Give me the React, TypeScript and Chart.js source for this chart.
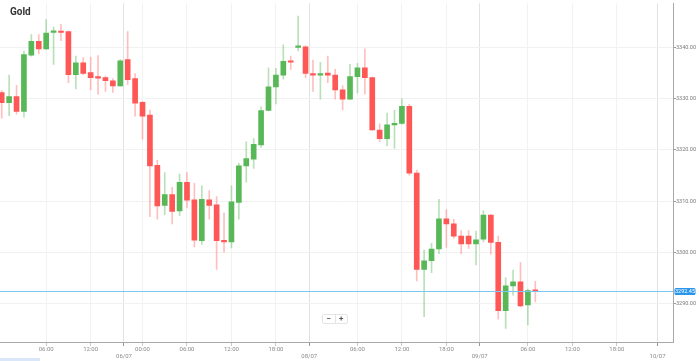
import React, { useEffect, useRef } from 'react';
import { Chart, registerables } from 'chart.js';

Chart.register(...registerables);

// Hourly candles (index = candle number on the chart)
const opens = [
  3331.2, 3329.2, 3330.4, 3327.5, 3338.5, 3341.2, 3339.7, 3342.9, 3343.1, 3343.1,
  3334.7, 3337.0, 3335.1, 3334.3, 3334.1, 3333.5, 3332.5, 3337.6, 3333.9, 3329.3,
  3326.8, 3317.0, 3309.2, 3311.3, 3308.1, 3313.7, 3310.3, 3302.3, 3310.3, 3309.3,
  3302.4, 3302.1, 3309.8, 3316.9, 3318.2, 3321.0, 3327.7, 3332.3, 3334.6, 3337.3,
  3340.0, 3340.1, 3334.9, 3334.6, 3335.0, 3334.6, 3331.7, 3329.9, 3334.3, 3336.0,
  3334.1, 3323.9, 3322.2, 3324.9, 3325.2, 3328.5, 3315.5, 3296.7, 3298.4, 3300.7,
  3306.6, 3305.6, 3303.2, 3303.2, 3301.7, 3302.6, 3307.3, 3302.0, 3288.7, 3293.5,
  3294.3, 3289.8, 3292.7,
];
const highs = [
  3331.6, 3334.6, 3332.6, 3339.3, 3342.5, 3342.5, 3345.4, 3344.0, 3344.5, 3343.2,
  3338.3, 3338.0, 3338.1, 3338.4, 3334.4, 3333.9, 3337.6, 3343.1, 3334.9, 3329.5,
  3327.8, 3318.0, 3315.6, 3312.7, 3315.3, 3315.6, 3313.5, 3313.0, 3312.1, 3310.9,
  3307.7, 3313.0, 3317.4, 3321.6, 3322.2, 3328.4, 3336.0, 3335.9, 3340.5, 3338.3,
  3346.1, 3340.3, 3337.5, 3337.1, 3338.3, 3335.7, 3332.5, 3336.7, 3336.9, 3339.7,
  3334.2, 3325.1, 3327.2, 3327.8, 3330.0, 3328.9, 3316.1, 3300.5, 3301.8, 3310.4,
  3308.4, 3306.5, 3304.3, 3304.3, 3304.2, 3308.2, 3307.4, 3303.2, 3295.1, 3296.6,
  3298.1, 3292.9, 3294.4,
];
const lows = [
  3326.2, 3326.7, 3327.0, 3326.4, 3338.3, 3338.7, 3339.6, 3336.7, 3341.3, 3333.1,
  3331.9, 3334.7, 3331.7, 3330.9, 3331.4, 3331.2, 3332.4, 3332.8, 3326.6, 3322.1,
  3307.0, 3306.5, 3307.4, 3305.6, 3307.2, 3308.7, 3301.1, 3301.6, 3306.5, 3296.7,
  3300.1, 3300.9, 3306.5, 3313.7, 3316.4, 3320.5, 3327.6, 3329.0, 3333.8, 3335.7,
  3339.3, 3334.1, 3331.4, 3329.9, 3333.1, 3329.9, 3327.8, 3329.8, 3331.1, 3330.9,
  3323.8, 3321.6, 3320.8, 3320.3, 3325.0, 3315.1, 3294.5, 3287.5, 3296.1, 3299.8,
  3301.0, 3302.8, 3299.8, 3300.8, 3297.6, 3302.1, 3299.7, 3287.0, 3285.2, 3291.7,
  3289.4, 3285.9, 3290.4,
];
const closes = [
  3329.2, 3330.4, 3327.5, 3338.6, 3341.2, 3339.7, 3342.8, 3343.2, 3342.9, 3334.7,
  3337.0, 3334.9, 3334.1, 3334.0, 3333.5, 3332.5, 3337.4, 3333.7, 3329.1, 3326.6,
  3316.9, 3309.1, 3311.3, 3308.0, 3313.7, 3310.2, 3302.4, 3310.4, 3309.2, 3302.3,
  3302.1, 3309.9, 3316.9, 3318.3, 3321.1, 3327.7, 3332.3, 3334.6, 3337.3, 3337.1,
  3340.2, 3334.9, 3334.6, 3334.9, 3334.6, 3331.7, 3329.9, 3334.3, 3336.0, 3334.1,
  3323.9, 3322.2, 3324.9, 3325.2, 3328.5, 3315.5, 3296.7, 3298.4, 3300.7, 3306.6,
  3305.6, 3303.2, 3301.7, 3301.7, 3302.5, 3307.3, 3302.0, 3288.7, 3293.5, 3294.3,
  3289.6, 3292.6, 3292.45,
];

const currentPrice = 3292.45;
const yTicks = [3290, 3300, 3310, 3320, 3330, 3340];
const timeTickPos = [6, 12, 19, 25, 31, 37, 48, 54, 60, 71, 77, 83];
const timeTickLabels = ['06:00', '12:00', '00:00', '06:00', '12:00', '18:00', '06:00', '12:00', '18:00', '06:00', '12:00', '18:00'];
const dateTickPos = [16.5, 41.5, 64.5, 88.5];
const dateTickLabels = ['06/07', '08/07', '09/07', '10/07'];

const xMin = -0.23;
const xMax = 90.58;
const yMin = 3282.57;
const yMax = 3348.59;

const UP = '#58b858';
const DOWN = '#ff5656';
const UP_WICK = 'rgba(88,184,88,0.42)';
const DOWN_WICK = 'rgba(255,86,86,0.38)';
const FONT = 'Roboto, "Open Sans", sans-serif';

export default function App() {
  const ref = useRef<HTMLCanvasElement>(null);

  useEffect(() => {
    document.body.style.margin = '0';
    const canvas = ref.current;
    if (!canvas) return;
    const idx = opens.map((_, i) => i);
    const isUp = idx.map((i) => closes[i] >= opens[i]);
    const isDate = (v: number) => dateTickPos.some((d) => Math.abs(d - v) < 1e-6);
    const labelFor = (v: number): string | string[] => {
      const di = dateTickPos.findIndex((d) => Math.abs(d - v) < 1e-6);
      if (di >= 0) return ['', dateTickLabels[di]];
      const ti = timeTickPos.findIndex((d) => Math.abs(d - v) < 1e-6);
      return ti >= 0 ? timeTickLabels[ti] : '';
    };

    const priceLine = {
      id: 'priceLine',
      afterDraw(chart: any) {
        const { ctx, chartArea, scales } = chart;
        const yi = Math.round(scales.y.getPixelForValue(currentPrice));
        ctx.save();
        ctx.fillStyle = '#7cc6f2';
        ctx.fillRect(chartArea.left, yi, chartArea.right - chartArea.left, 1);
        const y = yi + 0.5;
        const x0 = chartArea.right + 1.5;
        const w = 21;
        const h = 7;
        ctx.fillStyle = '#2b95ec';
        ctx.beginPath();
        const r = 1.5;
        const top = y - h / 2;
        ctx.moveTo(x0 + r, top);
        ctx.lineTo(x0 + w - r, top);
        ctx.quadraticCurveTo(x0 + w, top, x0 + w, top + r);
        ctx.lineTo(x0 + w, top + h - r);
        ctx.quadraticCurveTo(x0 + w, top + h, x0 + w - r, top + h);
        ctx.lineTo(x0 + r, top + h);
        ctx.quadraticCurveTo(x0, top + h, x0, top + h - r);
        ctx.lineTo(x0, top + r);
        ctx.quadraticCurveTo(x0, top, x0 + r, top);
        ctx.fill();
        ctx.fillStyle = '#ffffff';
        ctx.font = `5.5px ${FONT}`;
        ctx.textBaseline = 'middle';
        ctx.textAlign = 'center';
        ctx.fillText(currentPrice.toFixed(2), x0 + w / 2, y + 0.3);
        ctx.restore();
      },
    };

    const chart = new Chart(canvas, {
      type: 'bar',
      data: {
        datasets: [
          {
            label: 'body',
            data: idx.map((i) => ({ x: i, y: [opens[i], closes[i]] })) as any,
            backgroundColor: idx.map((i) => (isUp[i] ? UP : DOWN)),
            barThickness: 5,
            minBarLength: 1.5,
            grouped: false,
            borderWidth: 0,
          } as any,
          {
            label: 'wick',
            data: idx.map((i) => ({ x: i, y: [lows[i], highs[i]] })) as any,
            backgroundColor: idx.map((i) => (isUp[i] ? UP_WICK : DOWN_WICK)),
            barThickness: 1,
            grouped: false,
            borderWidth: 0,
          } as any,
        ],
      },
      options: {
        responsive: false,
        animation: false,
        devicePixelRatio: 1,
        events: [],
        layout: { padding: 0 },
        plugins: { legend: { display: false }, tooltip: { enabled: false } },
        scales: {
          x: {
            type: 'linear',
            min: xMin,
            max: xMax,
            offset: false,
            afterBuildTicks: (s: any) => {
              s.ticks = [...timeTickPos, ...dateTickPos].sort((a, b) => a - b).map((v) => ({ value: v }));
            },
            afterFit: (s: any) => {
              s.height = 19;
            },
            grid: {
              offset: false,
              color: (c: any) => (c.tick && isDate(c.tick.value) ? '#e2e2e2' : '#f2f2f2'),
              tickColor: (c: any) => (c.tick && isDate(c.tick.value) ? '#999999' : '#c8c8c8'),
              tickLength: 4,
            },
            border: { color: '#a8a8a8' },
            ticks: {
              autoSkip: false,
              maxRotation: 0,
              minRotation: 0,
              padding: 0,
              color: '#8a8a8a',
              font: { size: 6, family: FONT },
              callback: (v: any) => labelFor(Number(v)),
            },
          } as any,
          y: {
            type: 'linear',
            position: 'right',
            min: yMin,
            max: yMax,
            afterBuildTicks: (s: any) => {
              s.ticks = yTicks.map((v) => ({ value: v }));
            },
            afterFit: (s: any) => {
              s.width = 26;
            },
            grid: { color: '#f1f1f1', tickColor: '#9a9a9a', tickLength: 3 },
            border: { color: '#a8a8a8' },
            ticks: {
              padding: 0,
              color: '#7a7a7a',
              font: { size: 5.5, family: FONT },
              callback: (v: any) => Number(v).toFixed(2),
            },
          } as any,
        },
      },
      plugins: [priceLine],
    });
    return () => chart.destroy();
  }, []);

  return (
    <div style={{ position: 'fixed', left: 0, top: 0, width: 699, height: 361, background: '#fff', overflow: 'hidden' }}>
      <canvas ref={ref} width={699} height={361} style={{ position: 'absolute', left: 0, top: 0, width: 699, height: 361 }} />
      <div style={{ position: 'absolute', left: 10, top: 6, font: `bold 10px ${FONT}`, color: '#333', lineHeight: '11px' }}>Gold</div>
      <div
        style={{
          position: 'absolute', left: 322, top: 314, width: 26, height: 10, background: '#fff',
          border: '1px solid #e4e4e4', borderRadius: 2, boxSizing: 'border-box', display: 'flex',
          font: `bold 8px ${FONT}`, color: '#555', lineHeight: '8px',
        }}
      >
        <span style={{ flex: 1, textAlign: 'center', borderRight: '1px solid #e4e4e4' }}>−</span>
        <span style={{ flex: 1, textAlign: 'center' }}>+</span>
      </div>
      <div style={{ position: 'absolute', left: 0, top: 358, width: 40, height: 3, background: '#d9e7f8' }} />
    </div>
  );
}
